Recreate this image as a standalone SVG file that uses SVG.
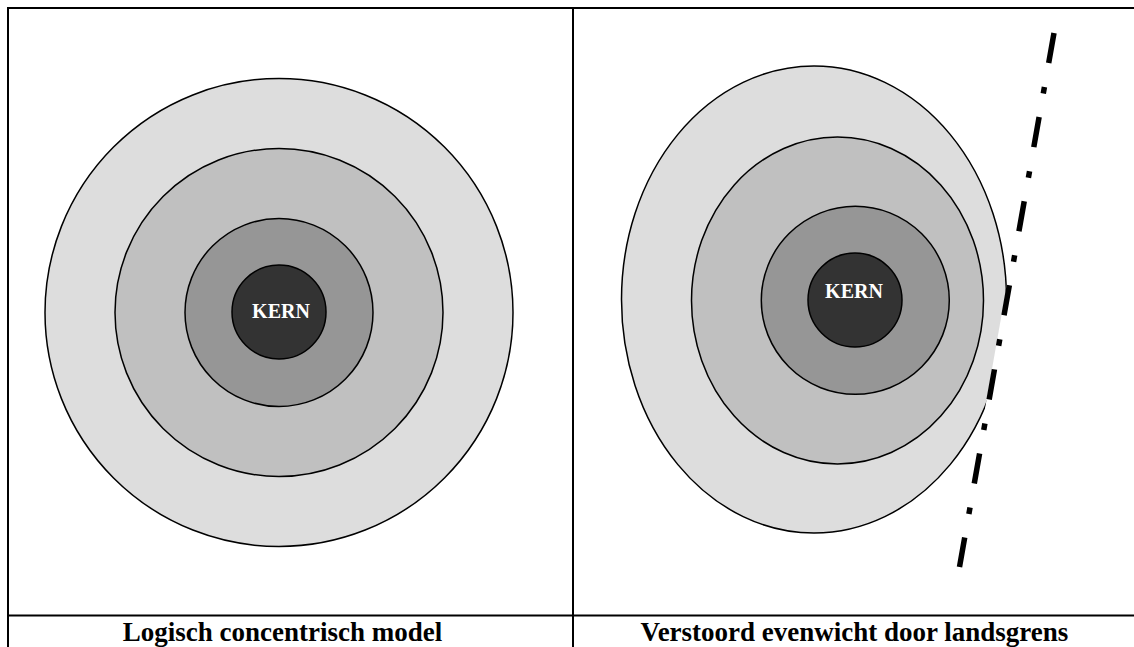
<svg xmlns="http://www.w3.org/2000/svg" width="1134" height="647" viewBox="0 0 1134 647">
  <style>
    .grid { stroke: #000; stroke-width: 2; fill: none; }
    .ring { stroke: #000; stroke-width: 1.5; }
    .r1 { fill: #DDDDDD; }
    .r2 { fill: #C0C0C0; }
    .r3 { fill: #969696; }
    .r4 { fill: #333333; }
    .kern { font-family: "Liberation Serif", "Times New Roman", serif; font-weight: bold; font-size: 20px; fill: #FFFFFF; text-anchor: middle; }
    .label { font-family: "Liberation Serif", "Times New Roman", serif; font-weight: bold; font-size: 27px; fill: #000; text-anchor: middle; }
    .border { stroke: #000; stroke-width: 5.5; fill: none; stroke-dasharray: 30.5 24.4 6.6 23.9; stroke-linecap: butt; }
  </style>
  <defs>
    <clipPath id="cut">
      <polygon points="0,0 1057.3,0 942.8,647 0,647"/>
    </clipPath>
  </defs>
  <rect x="0" y="0" width="1134" height="647" fill="#FFFFFF"/>

  <g id="table">
    <line class="grid" x1="7" y1="8" x2="1134" y2="8"/>
    <line class="grid" x1="8" y1="7" x2="8" y2="647"/>
    <line class="grid" x1="573" y1="7" x2="573" y2="647"/>
    <line class="grid" x1="7" y1="615.5" x2="1134" y2="615.5"/>
  </g>

  <g id="left-model">
    <circle class="ring r1" cx="279" cy="312.5" r="234"/>
    <circle class="ring r2" cx="279" cy="312.5" r="164"/>
    <circle class="ring r3" cx="279" cy="312.5" r="94"/>
    <g id="left-kern">
      <circle class="ring r4" cx="279" cy="312" r="47"/>
      <text class="kern" x="281" y="318">KERN</text>
    </g>
  </g>

  <g id="right-model">
    <g clip-path="url(#cut)">
      <ellipse class="ring r1" cx="814" cy="299.5" rx="192.5" ry="233.5"/>
    </g>
    <ellipse class="ring r2" cx="837.5" cy="300.5" rx="146" ry="163.5"/>
    <circle class="ring r3" cx="855.3" cy="300.3" r="94"/>
    <g id="right-kern">
      <circle class="ring r4" cx="855" cy="300" r="47"/>
      <text class="kern" x="854" y="298">KERN</text>
    </g>
  </g>

  <g id="connectors">
    <line class="border" x1="1054" y1="33" x2="959.5" y2="567"/>
  </g>

  <g id="labels">
    <text class="label" x="282.5" y="641">Logisch concentrisch model</text>
    <text class="label" x="854.5" y="641">Verstoord evenwicht door landsgrens</text>
  </g>
</svg>
